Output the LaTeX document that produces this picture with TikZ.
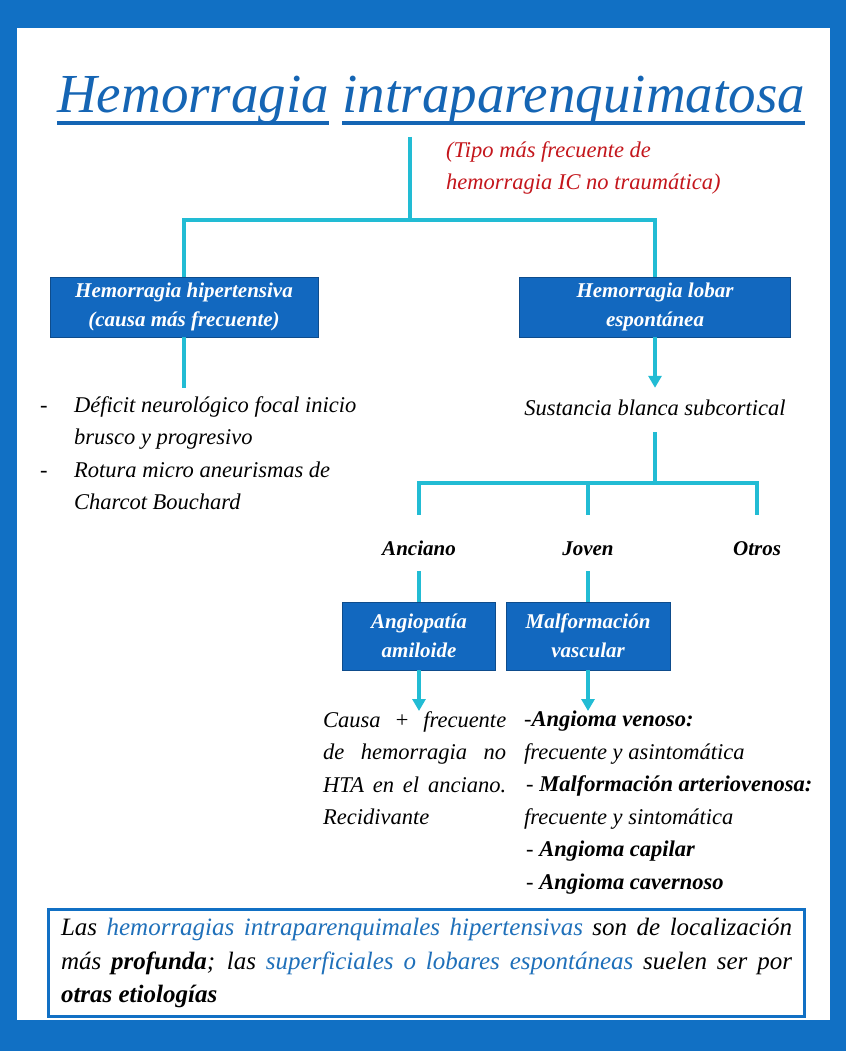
\documentclass[tikz,border=0pt]{standalone}
\usepackage{fontspec}
\setmainfont{Liberation Serif}
\usetikzlibrary{arrows.meta}
\definecolor{frameblue}{HTML}{1170C4}
\definecolor{boxblue}{HTML}{1268BF}
\definecolor{boxedge}{HTML}{0E4C8C}
\definecolor{linkcyan}{HTML}{22BCD4}
\definecolor{titleblue}{HTML}{1565B4}
\definecolor{notered}{HTML}{C4161C}
\definecolor{wordblue}{HTML}{1F70BA}
\begin{document}
\begin{tikzpicture}[x=1pt,y=-1pt,
    boxnode/.style={draw=boxedge, line width=0.8pt, fill=boxblue, text=white, align=center,
      inner sep=0pt, font=\bfseries\itshape\fontsize{21}{29}\selectfont},
    conn/.style={draw=linkcyan, line width=3.5pt},
    arr/.style={conn, -{Triangle[width=13pt,length=12pt]}},
    lbl/.style={anchor=base, inner sep=0pt, text height=40pt, text depth=16pt,
      font=\bfseries\itshape\fontsize{21}{26}\selectfont},
    body/.style={inner sep=0pt, font=\itshape\fontsize{22.5}{32.5}\selectfont},
    titleword/.style={anchor=base west, inner sep=0pt, text=titleblue,
      font=\itshape\fontsize{55}{60}\selectfont}]
  \useasboundingbox (0,0) rectangle (846,1051);
  % frame
  \fill[frameblue] (0,0) rectangle (846,1051);
  \fill[white] (17,28) rectangle (830,1020);

  % title
  \node[titleword] (tw1) at (57,113) {Hemorragia};
  \node[titleword] (tw2) at ([xshift=13pt]tw1.base east) {intraparenquimatosa};
  \draw[titleblue, line width=3.5pt] ([yshift=-10pt]tw1.base west) -- ([yshift=-10pt]tw1.base east);
  \draw[titleblue, line width=3.5pt] ([yshift=-10pt]tw2.base west) -- ([yshift=-10pt]tw2.base east);
  \node[body, text=notered, anchor=north west, align=left] (tipo) at (446,141)
    {(Tipo más frecuente de\\hemorragia IC no traumática)};

  % first level
  \node[boxnode, minimum width=268pt, minimum height=60pt] (hip) at (184,307)
    {Hemorragia hipertensiva\\(causa más frecuente)};
  \node[boxnode, minimum width=271pt, minimum height=60pt] (lob) at (655,307)
    {Hemorragia lobar\\espontánea};
  \coordinate (top) at (410,137);
  \coordinate (split) at (410,220);
  \draw[conn] (top) -- (split);
  \draw[conn] (hip.north) |- (split) -| (lob.north);

  % hypertensive branch
  \coordinate (hipend) at (184,388);
  \draw[conn] (hip.south) -- (hipend);
  \node[body, anchor=north west, align=left] (sint) at (40,396)
    {\makebox[34pt][l]{-}Déficit neurológico focal inicio\\
     \hspace*{34pt}brusco y progresivo\\
     \makebox[34pt][l]{-}Rotura micro aneurismas de\\
     \hspace*{34pt}Charcot Bouchard};

  % lobar branch
  \node[body, anchor=base, text height=27pt, text depth=17pt] (sust) at (655,415)
    {Sustancia blanca subcortical};
  \draw[arr] (lob.south) -- (lob.south |- sust.north);
  \coordinate (rama) at (655,483);
  \draw[conn] (sust.south) -- (rama);
  \node[lbl] (anc) at (419,555) {Anciano};
  \node[lbl] (jov) at (588,555) {Joven};
  \node[lbl] (otr) at (757,555) {Otros};
  \draw[conn] (anc.north) |- (rama) -| (otr.north);
  \draw[conn] (jov.north) -- (jov.north |- rama);

  \node[boxnode, minimum width=153pt, minimum height=68pt] (angio) at (419,636)
    {Angiopatía\\amiloide};
  \node[boxnode, minimum width=164pt, minimum height=68pt] (malf) at (588,636)
    {Malformación\\vascular};
  \draw[conn] (anc.south) -- (anc.south |- angio.north);
  \draw[conn] (jov.south) -- (jov.south |- malf.north);

  \node[body, anchor=north west, text width=183pt, align=justify] (causa) at (323,711)
    {Causa + frecuente\linebreak de hemorragia no\linebreak HTA en el anciano.\linebreak Recidivante};
  \node[body, anchor=north west, align=left] (tipos) at (524,711)
    {-\textbf{Angioma venoso:}\\
     frecuente y asintomática\\
     \hspace*{2pt}- \textbf{Malformación arteriovenosa:}\\
     frecuente y sintomática\\
     \hspace*{2pt}- \textbf{Angioma capilar}\\
     \hspace*{2pt}- \textbf{Angioma cavernoso}};
  \draw[arr] (angio.south) -- (angio.south |- causa.north);
  \draw[arr] (malf.south) -- (malf.south |- tipos.north);

  % bottom note
  \node[draw=frameblue, line width=3pt, anchor=north west, text width=731pt, inner xsep=12.5pt,
    inner ysep=0pt, minimum height=107pt, align=justify, font=\itshape\fontsize{25}{33.5}\selectfont] (resumen) at (47,908)
    {Las \textcolor{wordblue}{hemorragias intraparenquimales hipertensivas} son de localización\linebreak
     más \textbf{profunda}; las \textcolor{wordblue}{superficiales o lobares espontáneas} suelen ser por\linebreak
     \textbf{otras etiologías}};
\end{tikzpicture}
\end{document}
